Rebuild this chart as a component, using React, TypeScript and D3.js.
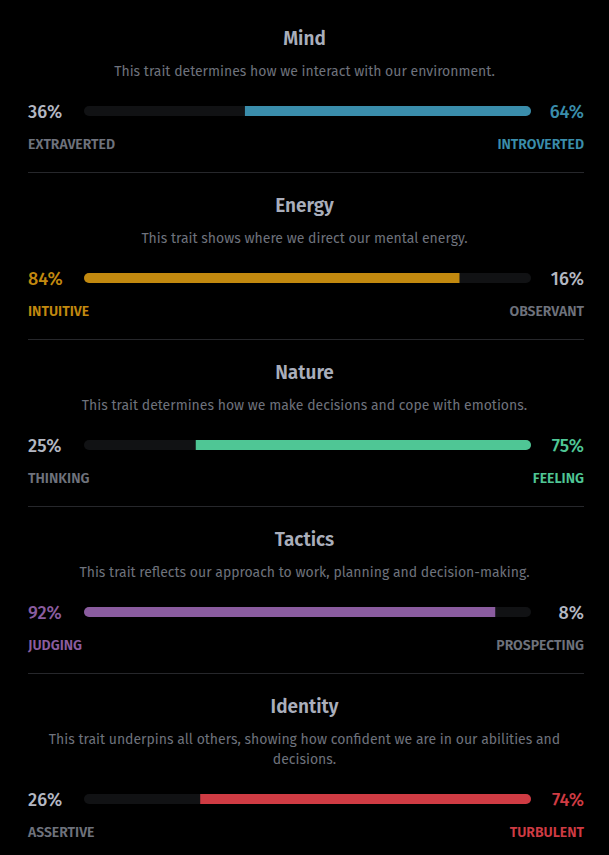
import * as d3 from "d3";

const traits = ["Mind", "Energy", "Nature", "Tactics", "Identity"];
const descriptions = [
  ["This trait determines how we interact with our environment."],
  ["This trait shows where we direct our mental energy."],
  ["This trait determines how we make decisions and cope with emotions."],
  ["This trait reflects our approach to work, planning and decision-making."],
  ["This trait underpins all others, showing how confident we are in our abilities and", "decisions."],
];
const leftLabels = ["EXTRAVERTED", "INTUITIVE", "THINKING", "JUDGING", "ASSERTIVE"];
const rightLabels = ["INTROVERTED", "OBSERVANT", "FEELING", "PROSPECTING", "TURBULENT"];
const leftValues = [36, 84, 25, 92, 26];
const dominant = ["right", "left", "right", "left", "right"];
const colors = ["#3a8dab", "#c2890f", "#4fc695", "#8a5c9f", "#cf3b43"];

const W = 609;
const H = 855;
const font = "'Fira Sans', 'Noto Sans', 'Open Sans', sans-serif";

export default function App() {
  const x = d3.scaleLinear().domain([0, 100]).range([84, 531]);
  const neutral = "#b3b7c2";
  const muted = "#6e727c";
  let y = 0;
  const sections = traits.map((t, i) => {
    const top = y;
    const lines = descriptions[i];
    const extra = (lines.length - 1) * 20;
    const barY = top + 111 + extra;
    y += 167 + extra;
    const leftDom = dominant[i] === "left";
    const lv = leftValues[i];
    const fx0 = leftDom ? x(0) : x(lv);
    const fx1 = leftDom ? x(lv) : x(100);
    return (
      <g key={t}>
        <text x={W / 2} y={top + 45} textAnchor="middle" fill="#a9aebb" fontSize={19} fontWeight={600}>{t}</text>
        {lines.map((l, j) => (
          <text key={j} x={W / 2} y={top + 76 + j * 20} textAnchor="middle" fill={muted} fontSize={14}>{l}</text>
        ))}
        <clipPath id={`clip${i}`}>
          <rect x={x(0)} y={barY - 5} width={x(100) - x(0)} height={10} rx={5} />
        </clipPath>
        <rect x={x(0)} y={barY - 5} width={x(100) - x(0)} height={10} rx={5} fill="#111214" />
        <rect x={fx0} y={barY - 5} width={fx1 - fx0} height={10} fill={colors[i]} clipPath={`url(#clip${i})`} />
        <text x={28} y={barY + 7} fill={leftDom ? colors[i] : neutral} fontSize={18} fontWeight={500}>{lv}%</text>
        <text x={584} y={barY + 7} textAnchor="end" fill={leftDom ? neutral : colors[i]} fontSize={18} fontWeight={500}>{100 - lv}%</text>
        <text x={28} y={barY + 38} fill={leftDom ? colors[i] : muted} fontSize={14} fontWeight={600}>{leftLabels[i]}</text>
        <text x={584} y={barY + 38} textAnchor="end" fill={leftDom ? muted : colors[i]} fontSize={14} fontWeight={600}>{rightLabels[i]}</text>
        {i < traits.length - 1 && (
          <line x1={28} x2={584} y1={barY + 61.5} y2={barY + 61.5} stroke="#26272b" strokeWidth={1} />
        )}
      </g>
    );
  });
  return (
    <div style={{ position: "fixed", left: 0, top: 0, width: W, height: H, background: "#000" }}>
      <svg width={W} height={H} style={{ display: "block", fontFamily: font }}>
        <rect width={W} height={H} fill="#000" />
        {sections}
      </svg>
    </div>
  );
}
